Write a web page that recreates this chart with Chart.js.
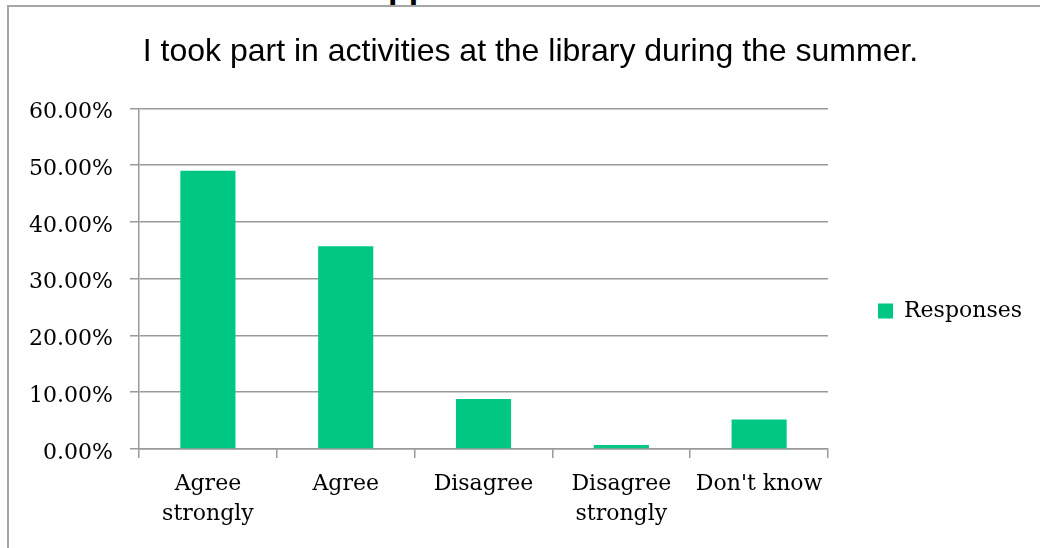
<!DOCTYPE html>
<html>
<head>
<meta charset="utf-8">
<script src="https://cdn.jsdelivr.net/npm/chart.js@4/dist/chart.umd.min.js"></script>
<style>
  html, body { margin: 0; padding: 0; width: 1040px; height: 548px; overflow: hidden; background: #fff; }
  #frame { position: absolute; left: 7px; top: 5px; width: 1040px; height: 700px;
           border-left: 2px solid #a6a6a6; border-top: 2px solid #a6a6a6; }
  #cut { position: absolute; left: 388px; top: 0; height: 5px; overflow: hidden; }
  #cut span { display: block; margin-top: -30px; font: bold 34px "Liberation Sans"; line-height: 32px; color: #000; }
  #chartBox { position: absolute; left: 0; top: 0; }
</style>
</head>
<body>
<div id="frame"></div>
<div id="cut"><span>pp</span></div>
<div id="chartBox"><canvas id="summerChart" width="1040" height="622"></canvas></div>
<script>
const categories = [['Agree', 'strongly'], 'Agree', 'Disagree', ['Disagree', 'strongly'], "Don't know"];
const responses = [49.0, 35.7, 8.8, 0.7, 5.2];
const yTickValues = [0, 10, 20, 30, 40, 50, 60];

const gridGrey = '#9a9a9a';
const barGreen = '#00c781';
const serif = 'DejaVu Serif';

document.addEventListener('DOMContentLoaded', function() {
    const ctx = document.getElementById('summerChart').getContext('2d');
    new Chart(ctx, {
        type: 'bar',
        data: {
            labels: categories,
            datasets: [{
                label: 'Responses',
                data: responses,
                backgroundColor: barGreen,
                borderWidth: 0,
                barPercentage: 0.4,
                categoryPercentage: 1
            }]
        },
        options: {
            responsive: false,
            animation: false,
            devicePixelRatio: 1,
            // left/right padding keep the title centred where the original sits
            layout: { padding: { left: 29, right: 8, top: 0, bottom: 0 } },
            plugins: {
                tooltip: { enabled: false },
                title: {
                    display: true,
                    text: 'I took part in activities at the library during the summer.',
                    color: '#000',
                    font: { family: 'Liberation Sans', size: 32, weight: 'normal', lineHeight: 1.2 },
                    padding: { top: 33, bottom: 37 }
                },
                legend: {
                    position: 'right',
                    labels: {
                        boxWidth: 15,
                        boxHeight: 15,
                        padding: 50,
                        color: '#000',
                        font: { family: serif, size: 22 }
                    }
                }
            },
            scales: {
                x: {
                    // the original chart box runs past the bottom of the picture
                    afterFit: scale => { scale.height = 173; },
                    grid: {
                        offset: true,
                        drawOnChartArea: false,
                        drawTicks: true,
                        tickLength: 9,
                        color: gridGrey,
                        lineWidth: 1.5
                    },
                    border: { display: true, color: gridGrey, width: 1.5 },
                    ticks: {
                        color: '#000',
                        padding: 11,
                        maxRotation: 0,
                        font: { family: serif, size: 22, lineHeight: 1.38 }
                    }
                },
                y: {
                    min: 0,
                    max: 60,
                    afterFit: scale => { scale.width = 110; },
                    afterBuildTicks: scale => {
                        scale.ticks = yTickValues.map(v => ({ value: v }));
                    },
                    grid: {
                        color: gridGrey,
                        lineWidth: 1.5,
                        drawTicks: true,
                        tickLength: 9
                    },
                    border: { display: true, color: gridGrey, width: 1.5 },
                    ticks: {
                        color: '#000',
                        padding: 17,
                        labelOffset: 4,
                        font: { family: serif, size: 22 },
                        callback: value => value.toFixed(2) + '%'
                    }
                }
            }
        }
    });
});
</script>
</body>
</html>
